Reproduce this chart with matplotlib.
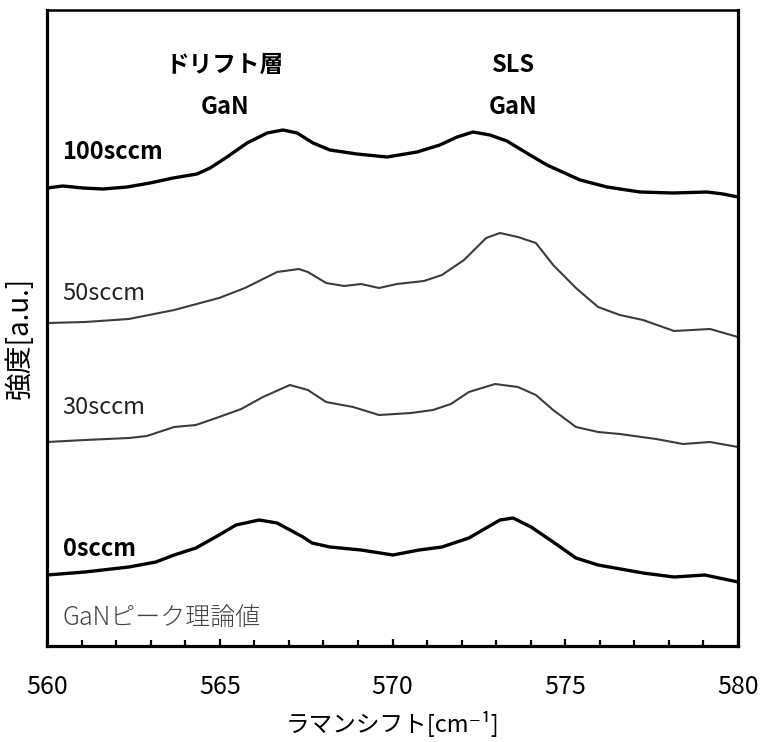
import matplotlib
matplotlib.use("Agg")
import matplotlib.pyplot as plt
from matplotlib.ticker import MultipleLocator

plt.rcParams['font.family'] = ['Noto Sans CJK JP', 'DejaVu Sans']

# Raman shift [cm^-1] and intensity [a.u.] (vertically stacked spectra)
x100 = [560.0, 560.46, 561.04, 561.62, 562.32, 562.98, 563.65, 564.34, 564.72, 565.21, 565.79,
        566.37, 566.83, 567.24, 567.70, 568.19, 568.97, 569.84, 570.71, 571.37, 571.87, 572.33,
        572.82, 573.31, 573.98, 574.47, 575.43, 576.21, 577.16, 578.12, 579.10, 579.57, 580.0]
y100 = [458, 460, 458, 457, 459, 463, 468, 472, 478, 489, 503,
        513, 516, 513, 503, 496, 492, 489, 494, 501, 509, 514,
        511, 505, 491, 481, 466, 459, 454, 453, 454, 452, 449]

x50 = [560.0, 561.10, 562.37, 563.68, 564.98, 565.73, 566.66, 567.29, 567.55, 568.08, 568.60,
       569.09, 569.61, 570.13, 570.91, 571.43, 572.07, 572.71, 573.11, 573.63, 574.15, 574.65,
       575.31, 575.95, 576.58, 577.25, 578.15, 579.19, 580.0]
y50 = [323, 324, 327, 336, 348, 358, 374, 377, 374, 363, 360,
       362, 358, 362, 365, 371, 386, 408, 413, 409, 403, 381,
       358, 339, 331, 326, 315, 317, 309]

x30 = [560.0, 561.10, 562.37, 562.89, 563.68, 564.31, 564.98, 565.62, 566.25, 567.03, 567.55,
       568.08, 568.86, 569.61, 570.54, 571.17, 571.69, 572.21, 572.97, 573.63, 574.15, 574.65,
       575.31, 575.95, 576.58, 577.63, 578.41, 579.19, 580.0]
y30 = [204, 206, 208, 210, 219, 221, 229, 237, 249, 261, 256,
       244, 239, 231, 233, 236, 242, 254, 262, 259, 251, 236,
       219, 214, 212, 207, 202, 204, 199]

x0 = [560.0, 561.10, 562.37, 563.15, 563.68, 564.31, 564.98, 565.47, 566.14, 566.66, 567.41,
      567.67, 568.19, 569.09, 570.01, 570.77, 571.43, 572.21, 572.71, 573.11, 573.49, 574.01,
      574.65, 575.31, 575.95, 577.25, 578.15, 579.04, 580.0]
y0 = [71, 74, 79, 84, 91, 98, 111, 121, 126, 123, 109,
      103, 99, 96, 91, 96, 99, 108, 118, 126, 128, 119,
      104, 88, 81, 73, 69, 71, 64]

series_labels = ["100sccm", "50sccm", "30sccm", "0sccm"]
xticks = [560, 565, 570, 575, 580]

fig = plt.figure(figsize=(7.6, 7.42), dpi=100)
ax = fig.add_axes([47/760, 1-646/742, (738-47)/760, (646-10)/742])

ax.plot(x100, y100, color='black', lw=2.4, solid_joinstyle='round')
ax.plot(x50, y50, color='#3c3c3c', lw=1.5, solid_joinstyle='round')
ax.plot(x30, y30, color='#3c3c3c', lw=1.5, solid_joinstyle='round')
ax.plot(x0, y0, color='black', lw=2.4, solid_joinstyle='round')

ax.set_xlim(560, 580)
ax.set_ylim(0, 636)
ax.set_xticks(xticks)
ax.set_xticklabels([str(t) for t in xticks])
ax.xaxis.set_minor_locator(MultipleLocator(1))
ax.set_yticks([])
ax.tick_params(axis='x', which='both', direction='in', width=1.6, labelsize=18, pad=20,
               top=False)
ax.tick_params(axis='x', which='major', length=5)
ax.tick_params(axis='x', which='minor', length=4.5)
for s in ax.spines.values():
    s.set_linewidth(2.3)
    s.set_color('black')
ax.spines['top'].set_linewidth(1.8)

# annotations
ax.text(565.15, 581, "ドリフト層", ha='center', va='center', fontsize=17, fontweight='bold')
ax.text(565.15, 539, "GaN", ha='center', va='center', fontsize=17, fontweight='bold')
ax.text(573.49, 581, "SLS", ha='center', va='center', fontsize=17, fontweight='bold')
ax.text(573.49, 539, "GaN", ha='center', va='center', fontsize=17, fontweight='bold')

ax.text(560.45, 494, series_labels[0], ha='left', va='center', fontsize=17, fontweight='bold')
ax.text(560.45, 353, series_labels[1], ha='left', va='center', fontsize=17, color='#222222')
ax.text(560.45, 238, series_labels[2], ha='left', va='center', fontsize=17, color='#222222')
ax.text(560.45, 97, series_labels[3], ha='left', va='center', fontsize=17, fontweight='bold')
ax.text(560.45, 27, "GaNピーク理論値", ha='left', va='center', fontsize=18, color='#444444',
        fontweight='light')

ax.set_xlabel("ラマンシフト[cm⁻¹]", fontsize=17, labelpad=8)
fig.text(20/760, 1-338/742, "強度[a.u.]", rotation=90, ha='center', va='center', fontsize=20)

fig.savefig("out.png", dpi=100)
